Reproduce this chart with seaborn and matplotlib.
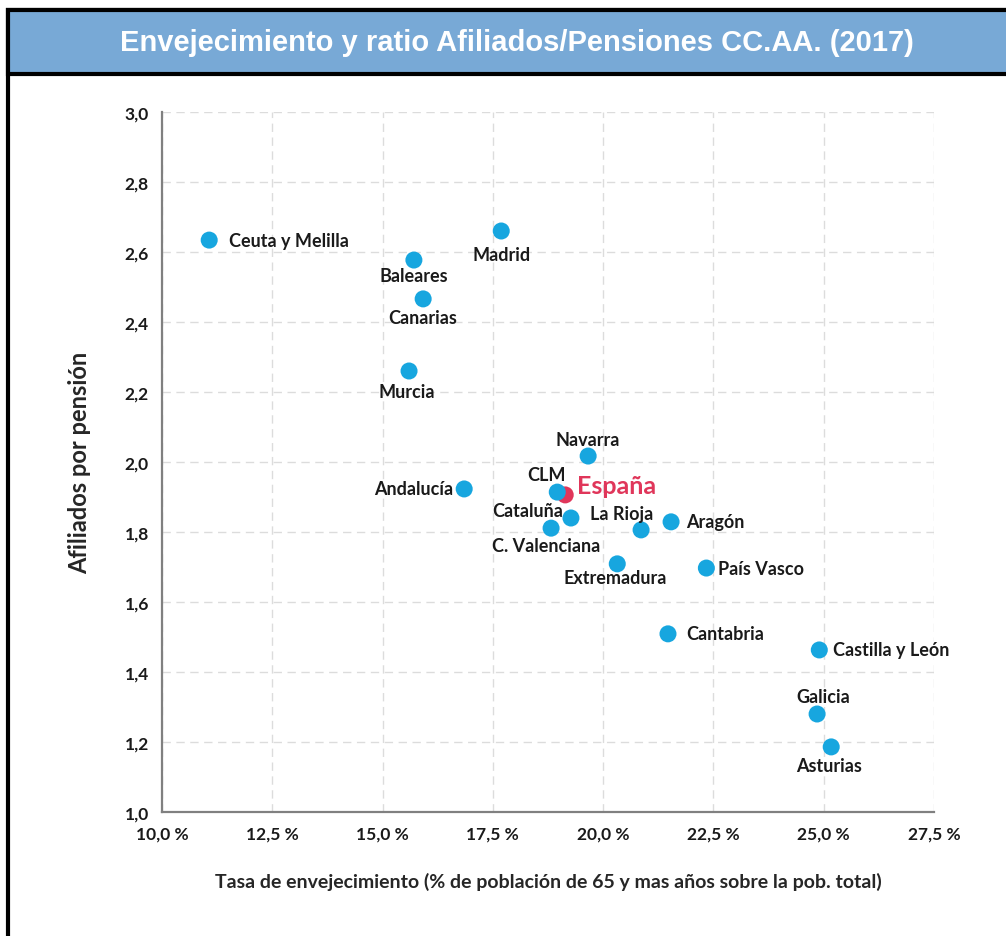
import matplotlib.pyplot as plt
import seaborn as sns
from matplotlib.patches import Rectangle
from matplotlib.ticker import FuncFormatter, MultipleLocator

sns.set_style("white")
plt.rcParams['font.family'] = ['Lato', 'DejaVu Sans']

# ── Datos ──
regiones = ['Ceuta y Melilla', 'Madrid', 'Baleares', 'Canarias', 'Murcia',
            'Navarra', 'Andalucía', 'CLM', 'Cataluña', 'C. Valenciana',
            'La Rioja', 'Aragón', 'Extremadura', 'País Vasco', 'Cantabria',
            'Castilla y León', 'Galicia', 'Asturias']
envejecimiento = [11.07, 17.69, 15.71, 15.92, 15.60,
                  19.66, 16.85, 18.96, 19.27, 18.82,
                  20.86, 21.54, 20.32, 22.34, 21.47,
                  24.90, 24.85, 25.17]
afiliados_pension = [2.634, 2.660, 2.577, 2.466, 2.260,
                     2.017, 1.923, 1.914, 1.840, 1.811,
                     1.806, 1.829, 1.709, 1.697, 1.509,
                     1.463, 1.280, 1.186]
espana_x = [19.14]
espana_y = [1.906]

# posición de las etiquetas (píxeles respecto al punto, alineación)
offsets = {
    'Ceuta y Melilla': (20, 0, 'left'), 'Madrid': (0, -24, 'center'),
    'Baleares': (0, -15, 'center'), 'Canarias': (0, -19, 'center'),
    'Murcia': (-2, -21, 'center'), 'Navarra': (0, 17, 'center'),
    'Andalucía': (-11, 0, 'right'), 'CLM': (-11, 18, 'center'),
    'Cataluña': (-8, 7, 'right'), 'C. Valenciana': (-5, -17, 'center'),
    'La Rioja': (-19, 16, 'center'), 'Aragón': (15, 0, 'left'),
    'Extremadura': (-2, -14, 'center'), 'País Vasco': (12, 0, 'left'),
    'Cantabria': (18, 0, 'left'), 'Castilla y León': (14, 0, 'left'),
    'Galicia': (6, 17, 'center'), 'Asturias': (-2, -19, 'center'),
}

azul = '#17a6df'
rojo = '#e0365a'

fig = plt.figure(figsize=(10.06, 9.37), dpi=100)

# ── Marco y cabecera ──
fig.patches.append(Rectangle((8 / 1006, -0.02), 1.2, 1.02 - 11 / 937, transform=fig.transFigure,
                             facecolor='none', edgecolor='black', linewidth=3, zorder=0))
fig.patches.append(Rectangle((8 / 1006, 1 - 75 / 937), 1.2, 64 / 937, transform=fig.transFigure,
                             facecolor='#78a9d6', edgecolor='black', linewidth=3, zorder=1))
fig.text(0.514, 1 - 43 / 937, 'Envejecimiento y ratio Afiliados/Pensiones CC.AA. (2017)',
         ha='center', va='center', color='white', fontsize=21, fontweight='bold',
         family='Liberation Sans')

ax = fig.add_axes([162 / 1006, 1 - 813 / 937, 772 / 1006, 700 / 937])
ax.set_zorder(3)

sns.scatterplot(x=envejecimiento, y=afiliados_pension, color=azul, s=150,
                edgecolor='none', ax=ax, zorder=3)
sns.scatterplot(x=espana_x, y=espana_y, color=rojo, s=150,
                edgecolor='none', ax=ax, zorder=2)

for nombre, x, y in zip(regiones, envejecimiento, afiliados_pension):
    dx, dy, ha = offsets[nombre]
    ax.annotate(nombre, (x, y), xytext=(dx, dy), textcoords='offset pixels',
                ha=ha, va='center', fontsize=13, fontweight='bold', color='#1a1a1a')
ax.annotate('España', (espana_x[0], espana_y[0]), xytext=(12, 9), textcoords='offset pixels',
            ha='left', va='center', fontsize=18, fontweight='bold', color=rojo)

ax.set_xlim(10, 27.5)
ax.set_ylim(1.0, 3.0)
ax.xaxis.set_major_locator(MultipleLocator(2.5))
ax.yaxis.set_major_locator(MultipleLocator(0.2))
ax.xaxis.set_major_formatter(FuncFormatter(lambda v, p: f"{v:.1f} %".replace('.', ',')))
ax.yaxis.set_major_formatter(FuncFormatter(lambda v, p: f"{v:.1f}".replace('.', ',')))
ax.grid(True, linestyle=(0, (6, 4)), color='#dcdcdc', linewidth=1)
ax.spines[['top', 'right']].set_visible(False)
ax.spines[['left', 'bottom']].set_color('#808080')
ax.spines[['left', 'bottom']].set_linewidth(1.6)
ax.tick_params(axis='both', direction='out', length=6, width=1.6, color='#808080',
               labelsize=12.5, labelcolor='#1a1a1a')
for lab in ax.get_xticklabels() + ax.get_yticklabels():
    lab.set_fontweight('bold')

ax.set_ylabel('Afiliados por pensión', fontsize=17, fontweight='bold', labelpad=24)
ax.set_xlabel('Tasa de envejecimiento (% de población de 65 y mas años sobre la pob. total)',
              fontsize=14, fontweight='bold', labelpad=22)

fig.savefig('out.png', dpi=100)
